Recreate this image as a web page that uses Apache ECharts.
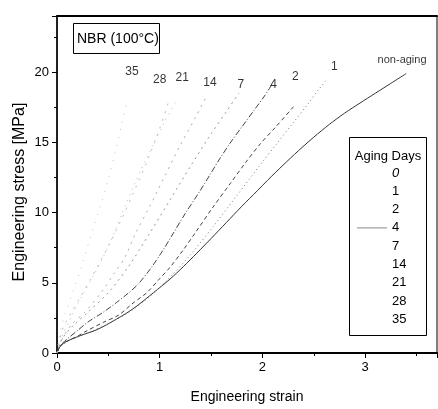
<!DOCTYPE html>
<html><head><meta charset="utf-8">
<script src="https://cdn.jsdelivr.net/npm/echarts@6/dist/echarts.min.js"></script>
<style>html,body{margin:0;padding:0;background:#fff}#c{width:438px;height:409px}</style>
</head><body><div id="c"></div>
<script>
// Aging days (legend categories)
const agingDays = ['0','1','2','4','7','14','21','28','35'];
// Curves: [strain, stress MPa]
const day0 = [[0,0],[0.02,0.35],[0.05,0.64],[0.1,0.85],[0.18,1.1],[0.27,1.35],[0.37,1.6],[0.48,2.0],[0.58,2.42],[0.68,2.85],[0.78,3.36],[0.94,4.3],[1.1,5.26],[1.23,6.15],[1.36,7.1],[1.5,8.15],[1.65,9.3],[1.8,10.45],[1.95,11.55],[2.05,12.3],[2.2,13.37],[2.35,14.4],[2.5,15.37],[2.65,16.27],[2.8,17.08],[2.95,17.8],[3.1,18.5],[3.25,19.2],[3.40,19.9]];
const day1 = [[0,0],[0.03,0.45],[0.1,0.8],[0.2,1.15],[0.35,1.6],[0.5,2.1],[0.7,2.9],[0.9,4.0],[1.1,5.4],[1.3,7.0],[1.52,9.0],[1.75,11.2],[2.0,13.6],[2.15,15.0],[2.3,16.4],[2.45,17.8],[2.53,18.6],[2.63,19.5]];
const day2 = [[0,0],[0.03,0.45],[0.1,0.85],[0.2,1.2],[0.27,1.5],[0.45,2.18],[0.6,2.7],[0.74,3.55],[0.875,4.3],[1.0,5.3],[1.1,6.1],[1.23,7.35],[1.35,8.6],[1.52,10.4],[1.69,12.1],[1.84,13.6],[1.98,14.9],[2.13,16.1],[2.31,17.6]];
const day4 = [[0,0],[0.03,0.5],[0.1,1.0],[0.2,1.6],[0.3,2.2],[0.45,2.9],[0.58,3.6],[0.7,4.3],[0.79,4.9],[0.92,6.1],[1.03,7.3],[1.13,8.5],[1.25,9.95],[1.38,11.4],[1.49,12.7],[1.59,13.9],[1.7,15.1],[1.8,16.1],[1.92,17.3],[2.02,18.3],[2.09,19.1]];
const day7 = [[0,0],[0.05,1.0],[0.15,1.9],[0.3,2.9],[0.5,4.3],[0.7,6.2],[0.9,8.5],[1.1,10.9],[1.3,13.3],[1.5,15.6],[1.65,17.2],[1.77,18.5]];
const day14 = [[0,0],[0.05,1.0],[0.15,2.1],[0.27,2.9],[0.44,4.4],[0.55,5.6],[0.66,6.8],[0.76,8.46],[0.9,10.4],[1.05,12.6],[1.2,14.8],[1.35,16.8],[1.45,18.2]];
const day21 = [[0,0],[0.05,1.2],[0.14,2.6],[0.24,4.0],[0.355,5.5],[0.51,7.75],[0.63,9.9],[0.76,12.1],[0.9,14.3],[1.05,16.5],[1.17,18.1]];
const day28 = [[0,0],[0.06,1.8],[0.14,2.9],[0.22,3.9],[0.33,5.3],[0.42,6.5],[0.52,7.9],[0.62,9.4],[0.75,11.5],[0.88,13.7],[1.0,16.0],[1.1,18.2]];
const day35 = [[0,0],[0.03,1.5],[0.08,2.8],[0.15,4.3],[0.24,6.2],[0.34,8.6],[0.42,10.4],[0.5,12.4],[0.57,14.4],[0.63,16.3],[0.68,17.9]];
// Curve end annotations: [strain, stress, text]
const endLabels = [[0.73,20.0,'35'],[1.0,19.5,'28'],[1.22,19.6,'21'],[1.49,19.25,'14'],[1.79,19.1,'7'],[2.11,19.1,'4'],[2.32,19.7,'2'],[2.70,20.4,'1']];
const nonAgingLabel = [[3.36,20.9,'non-aging']];
const xTicks = [0,1,2,3];
const yTicks = [0,5,10,15,20];

const FONT = 'Liberation Sans, Arial, sans-serif';
const curves = [day0,day1,day2,day4,day7,day14,day21,day28,day35];
const styles = [
  {color:'#333', type:'solid', width:1},
  {color:'#777', type:[1,3], width:1},
  {color:'#444', type:[4,3], width:1},
  {color:'#444', type:[6,2,1,2], width:1},
  {color:'#999', type:[2,4], width:1},
  {color:'#aaa', type:[2,5], width:1},
  {color:'#bbb', type:[1,5], width:1},
  {color:'#bbb', type:[2,6], width:1},
  {color:'#c4c4c4', type:[1,7], width:1}
];
const series = curves.map((d,i)=>({
  name: agingDays[i], type:'line', data:d, smooth:0.3, symbol:'none',
  lineStyle: styles[i], silent:true, z:2
}));
series.push({
  type:'scatter', data:endLabels, symbolSize:0, silent:true,
  label:{show:true, position:'inside', formatter:p=>p.value[2], color:'#000', fontSize:12, fontFamily:FONT}
});
series.push({
  type:'scatter', data:nonAgingLabel, symbolSize:0, silent:true,
  label:{show:true, position:'inside', formatter:p=>p.value[2], color:'#000', fontSize:11, fontFamily:FONT}
});

const chart = echarts.init(document.getElementById('c'), null, {renderer:'canvas'});
chart.setOption({
  animation:false,
  backgroundColor:'#fff',
  grid:{left:57, right:1, top:16, bottom:55, show:true, borderColor:'#000', borderWidth:1, backgroundColor:'transparent'},
  xAxis:[{
    type:'value', min:0, max:3.7, interval:1,
    name:'Engineering strain', nameLocation:'middle', nameGap:37,
    nameTextStyle:{fontSize:14, color:'#000', fontFamily:FONT},
    axisLine:{show:true, lineStyle:{color:'#000', width:2}},
    axisTick:{show:true, length:5, lineStyle:{color:'#000'}},
    minorTick:{show:true, splitNumber:2, length:3, lineStyle:{color:'#000'}},
    splitLine:{show:false},
    axisLabel:{fontSize:13, color:'#000', fontFamily:FONT, margin:8, showMaxLabel:false,
      formatter:v=> xTicks.includes(v) ? String(v) : ''}
  },{
    type:'value', position:'top', min:0, max:3.7,
    axisLine:{show:true, lineStyle:{color:'#000', width:2}},
    axisTick:{show:false}, axisLabel:{show:false}, splitLine:{show:false}
  }],
  yAxis:{
    type:'value', min:0, max:24, interval:5,
    axisLine:{show:true, lineStyle:{color:'#000', width:1.5}},
    axisTick:{show:true, length:5, lineStyle:{color:'#000'}},
    minorTick:{show:true, splitNumber:2, length:3, lineStyle:{color:'#000'}},
    splitLine:{show:false},
    axisLabel:{fontSize:13, color:'#000', fontFamily:FONT, margin:8, showMaxLabel:false,
      formatter:v=> yTicks.includes(v) ? String(v) : ''}
  },
  legend:{
    orient:'vertical', left:357, top:166, padding:0,
    itemWidth:30, itemHeight:14, itemGap:4.3,
    textStyle:{fontSize:13, color:'#000', fontFamily:FONT, width:16, align:'center', lineHeight:14},
    data: agingDays.map(d=>{
      if (d==='4') return {name:d, icon:'path://M0,0L30,0L30,1L0,1Z', itemStyle:{color:'#888'}};
      if (d==='0') return {name:d, icon:'none', textStyle:{fontStyle:'italic'}};
      return {name:d, icon:'none'};
    })
  },
  graphic:[
    {type:'rect', shape:{x:349.5, y:137.5, width:77, height:198}, style:{fill:'none', stroke:'#000', lineWidth:1}, z:10},
    {type:'text', x:388, y:156, style:{text:'Aging Days', font:'13px '+FONT, fill:'#000', align:'center', verticalAlign:'middle'}, z:10},
    {type:'rect', shape:{x:73.5, y:23.5, width:86, height:30}, style:{fill:'#fff', stroke:'#000', lineWidth:1}, z:10},
    {type:'text', x:77, y:39, style:{text:'NBR (100°C)', font:'14px '+FONT, fill:'#000', align:'left', verticalAlign:'middle'}, z:11},
    {type:'text', x:20, y:192, rotation:Math.PI/2, style:{text:'Engineering stress [MPa]', font:'16px '+FONT, fill:'#000', align:'center', verticalAlign:'middle'}, z:10}
  ],
  series: series
});
</script></body></html>
